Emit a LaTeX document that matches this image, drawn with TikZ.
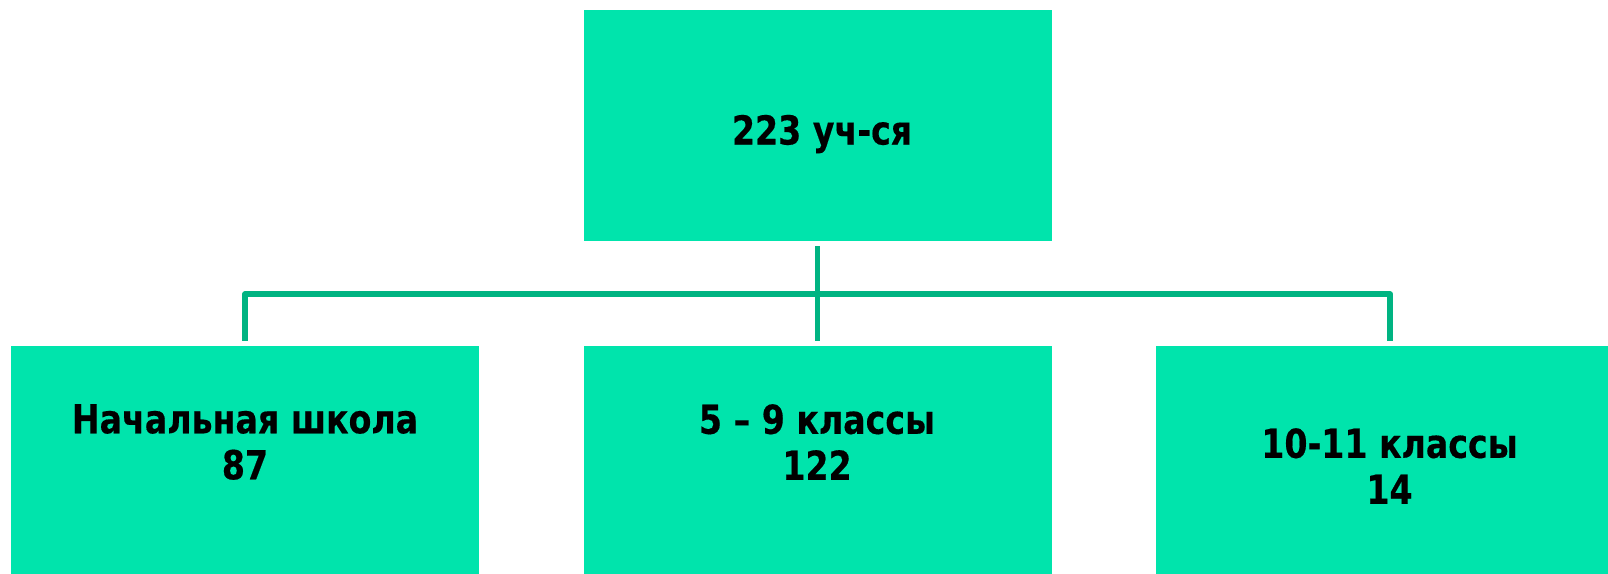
\documentclass[tikz,border=0pt]{standalone}
\usepackage{fontspec}
\setmainfont{DejaVu Sans}[BoldFeatures={FakeStretch=0.83,FakeBold=0.4}]
\definecolor{boxfill}{RGB}{0,228,172}
\definecolor{connc}{RGB}{0,180,130}
\tikzset{
  box/.style={rectangle, fill=boxfill, draw=none, minimum width=468pt, minimum height=231pt, inner sep=0pt},
  lbl/.style={align=center, inner sep=0pt, font=\fontsize{40}{46}\selectfont\bfseries, text=black},
  conn/.style={draw=connc, line width=5.5pt, line join=round}
}
\begin{document}
\begin{tikzpicture}[x=1pt,y=-1pt]
\useasboundingbox (0,0) rectangle (1608,573);
\clip (0,0) rectangle (1608,573);
\fill[white] (0,0) rectangle (1608,573);
\node[box, anchor=north west] (top) at (583.5,10) {};
\node[box, anchor=north west] (b1) at (11,345.7) {};
\node[box, anchor=north west] (b2) at (583.5,345.7) {};
\node[box, anchor=north west] (b3) at (1156,345.7) {};
\node[lbl] (ttop) at (822,134) {223 уч-ся};
\node[lbl] (t1) at (245,442) {Начальная школа\\87};
\node[lbl] (t2) at (817,442) {5 – 9 классы\\122};
\node[lbl] (t3) at (1389.5,466) {10-11 классы\\14};
\coordinate (j) at (817,294);
\draw[conn] ([yshift=-5pt]top.south) -- ([yshift=5pt]b2.north);
\draw[conn] ([yshift=5pt]b1.north) |- (j) -| ([yshift=5pt]b3.north);
\end{tikzpicture}
\end{document}
